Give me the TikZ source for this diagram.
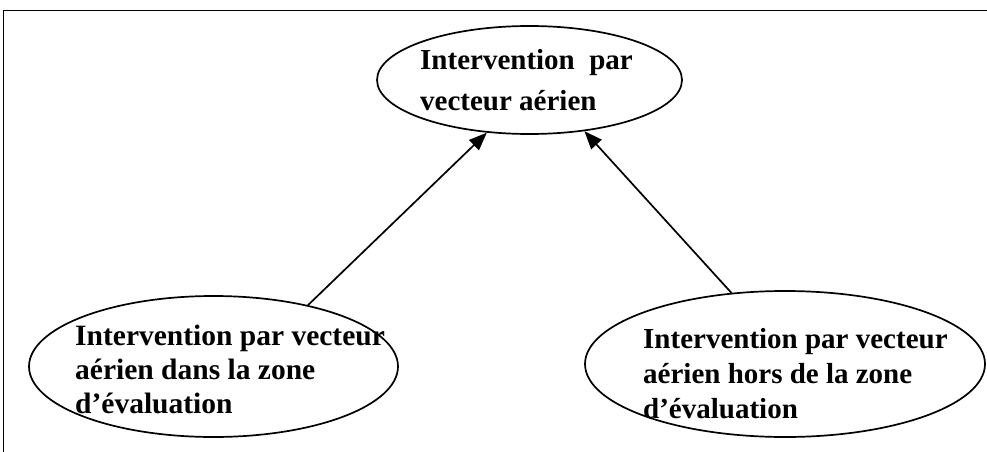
\documentclass[tikz,border=0pt]{standalone}
\usepackage{fontspec}
\setmainfont{Liberation Serif}
\usetikzlibrary{arrows.meta,shapes.geometric}

\begin{document}
\begin{tikzpicture}[x=1pt,y=-1pt,
  oval/.style={draw, ellipse, line width=1.7pt, inner sep=0pt},
  lbl/.style={inner sep=0pt, align=left, anchor=base west},
  link/.style={line width=1.7pt, -{Triangle[length=18pt,width=14pt]}}
]
\useasboundingbox (0,0) rectangle (987,452);

% outer frame (top and left edges)
\draw[line width=1.7pt] (3.5,452) -- (3.5,10.5) -- (987,10.5);

% ellipses
\node[oval, minimum width=305pt, minimum height=108pt] (top) at (529.5,80) {};
\node[oval, minimum width=369pt, minimum height=141pt] (left) at (213.5,366.5) {};
\node[oval, minimum width=400pt, minimum height=146pt] (right) at (785,364) {};

% labels (anchored on the baseline of their last line)
\node[lbl, font=\bfseries\fontsize{29}{40}\selectfont] (toplbl) at (420,110)
  {Intervention\ \ par\\vecteur aérien};
\node[lbl, font=\bfseries\fontsize{29.5}{34}\selectfont] (leftlbl) at (75,413)
  {Intervention par vecteur\\aérien dans la zone\\d’évaluation};
\node[lbl, font=\bfseries\fontsize{29}{35}\selectfont] (rightlbl) at (643,418)
  {Intervention par vecteur\\aérien hors de la zone\\d’évaluation};

% connectors
\draw[link] (left.33) -- (top.231);
\draw[link] (right.127) -- (top.317);
\end{tikzpicture}
\end{document}
